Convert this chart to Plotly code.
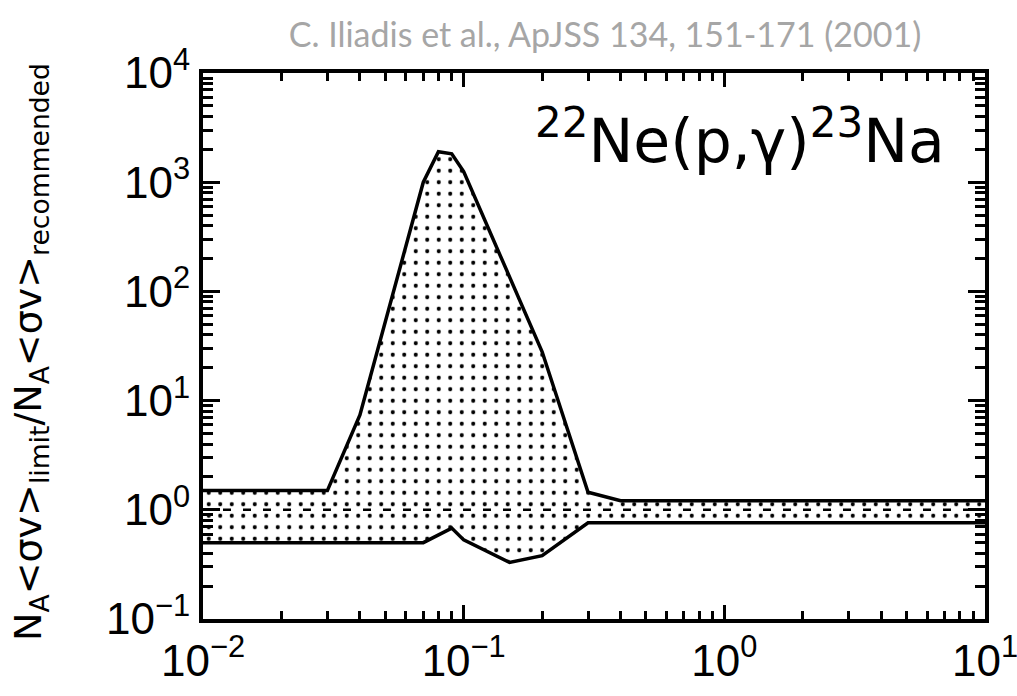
import plotly.graph_objects as go

# Data
upper_x = [0.01, 0.03, 0.04, 0.07, 0.08, 0.09, 0.1, 0.2, 0.3, 0.4, 10]
upper_y = [1.5, 1.5, 7.4, 1000, 1900, 1820, 1250, 28, 1.45, 1.21, 1.21]
lower_x = [0.01, 0.07, 0.09, 0.1, 0.15, 0.2, 0.3, 10]
lower_y = [0.5, 0.5, 0.68, 0.53, 0.33, 0.38, 0.76, 0.76]
ref_x = [0.01, 10]
ref_y = [1, 1]

x_tickvals = [0.01, 0.1, 1, 10]
x_ticktext = ["10<sup>\u22122</sup>", "10<sup>\u22121</sup>", "10<sup>0</sup>", "10<sup>1</sup>"]
y_tickvals = [0.1, 1, 10, 100, 1000, 10000]
y_ticktext = ["10<sup>\u22121</sup>", "10<sup>0</sup>", "10<sup>1</sup>", "10<sup>2</sup>",
              "10<sup>3</sup>", "10<sup>4</sup>"]

fig = go.Figure()

# dotted band (polygon built from the two limit curves)
poly_x = upper_x + lower_x[::-1]
poly_y = upper_y + lower_y[::-1]
fig.add_trace(go.Scatter(
    x=poly_x, y=poly_y, mode="none", fill="toself",
    fillcolor="white",
    fillpattern=dict(shape=".", fgcolor="black", bgcolor="white",
                     size=11.5, solidity=0.1, fillmode="replace"),
    hoverinfo="skip", showlegend=False))

# recommended (ratio = 1), dashed
fig.add_trace(go.Scatter(x=ref_x, y=ref_y, mode="lines",
                         line=dict(color="black", width=2.5, dash="8px,12px"),
                         showlegend=False))
# limits
fig.add_trace(go.Scatter(x=upper_x, y=upper_y, mode="lines",
                         line=dict(color="black", width=3.5), showlegend=False))
fig.add_trace(go.Scatter(x=lower_x, y=lower_y, mode="lines",
                         line=dict(color="black", width=3.5), showlegend=False))

tick_font = dict(family="Liberation Sans, Arial, sans-serif", size=44, color="black")

fig.update_xaxes(
    type="log", range=[-2, 1], automargin=False,
    tickvals=x_tickvals, ticktext=x_ticktext, ticklabeloverflow="allow",
    ticks="inside", ticklen=14, tickwidth=2.5, tickcolor="black",
    minor=dict(ticks="inside", ticklen=8, tickwidth=2.5, tickcolor="black",
               dtick="D1", showgrid=False),
    showline=True, linewidth=4, linecolor="black", mirror="allticks",
    showgrid=False, zeroline=False, tickfont=tick_font)

fig.update_yaxes(
    type="log", range=[-1, 4], automargin=False,
    tickvals=y_tickvals, ticktext=y_ticktext, ticklabeloverflow="allow",
    ticks="inside", ticklen=17, tickwidth=2.5, tickcolor="black",
    minor=dict(ticks="inside", ticklen=10, tickwidth=2.5, tickcolor="black",
               dtick="D1", showgrid=False),
    showline=True, linewidth=4, linecolor="black", mirror="allticks",
    showgrid=False, zeroline=False, tickfont=tick_font)

# y-axis title
fig.add_annotation(
    text="N<sub>A</sub>&lt;\u03c3v&gt;<sub>limit</sub>/N<sub>A</sub>&lt;\u03c3v&gt;<sub>recommended</sub>",
    xref="paper", yref="paper", x=(30 - 203) / 782, y=(619 - 352) / 546,
    xanchor="center", yanchor="middle", textangle=-90, showarrow=False,
    font=dict(family="DejaVu Sans, sans-serif", size=38, color="black"))

fig.add_annotation(
    text="<sup>22</sup>Ne(p,\u03b3)<sup>23</sup>Na",
    xref="paper", yref="paper", x=1, y=0.883, xanchor="right", yanchor="middle",
    xshift=-38, showarrow=False,
    font=dict(family="DejaVu Sans, sans-serif", size=60, color="black"))

fig.update_layout(
    width=1017, height=696,
    margin=dict(l=203, r=32, t=73, b=77),
    paper_bgcolor="white", plot_bgcolor="white",
    title=dict(text="C. Iliadis et al., ApJSS 134, 151-171 (2001)",
               x=605 / 1017, xanchor="center", xref="container",
               y=1 - 35 / 696, yanchor="middle", yref="container",
               font=dict(family="Lato, Open Sans, sans-serif", size=34, color="#a6a6a6")),
)

fig.write_html("out.html")
